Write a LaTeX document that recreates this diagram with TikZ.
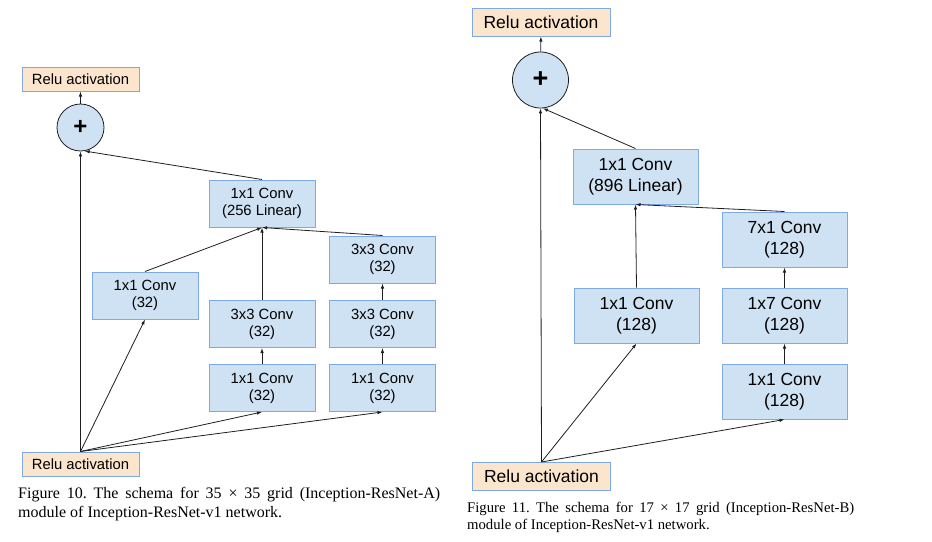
\documentclass[tikz,border=0pt]{standalone}
\usepackage{fontspec}
\setmainfont{Liberation Serif}
\setsansfont{Liberation Sans}
\usetikzlibrary{arrows.meta, positioning}
\definecolor{convfill}{RGB}{207,226,243}
\definecolor{convedge}{RGB}{125,170,228}
\definecolor{relufill}{RGB}{252,229,205}
\definecolor{linkcol}{RGB}{30,30,30}
\frenchspacing

\begin{document}
\begin{tikzpicture}[x=1pt, y=-1pt,
  box/.style={draw=convedge, line width=1pt, fill=convfill, align=center, inner sep=0pt},
  convA/.style={box, minimum width=106pt, minimum height=47pt, font=\sffamily\fontsize{14.8}{17}\selectfont},
  convB/.style={box, minimum width=125pt, minimum height=55pt, font=\sffamily\fontsize{17.5}{20.5}\selectfont},
  reluA/.style={box, fill=relufill, minimum width=117pt, minimum height=24pt, font=\sffamily\fontsize{14.8}{17}\selectfont},
  reluB/.style={box, fill=relufill, minimum width=138pt, minimum height=28pt, font=\sffamily\fontsize{17.5}{20.5}\selectfont},
  addnode/.style={circle, draw=linkcol, line width=0.8pt, fill=convfill, inner sep=0pt, font=\sffamily\bfseries},
  link/.style={-{Latex[length=5pt,width=3.5pt]}, line width=0.8pt, draw=linkcol},
  caption/.style={anchor=base west, inner sep=0pt, align=justify}]
  \useasboundingbox (0,0) rectangle (932,541);

  % Inception-ResNet-A
  \node[reluA] (reluTopA) at (80.5,79) {Relu activation};
  \node[addnode, minimum size=47pt, font=\sffamily\bfseries\fontsize{24}{24}\selectfont] (addA) at (80.5,127.5) {+};
  \node[convA] (linA) at (262,203.5) {1x1 Conv\\(256 Linear)};
  \node[convA] (c1A) at (145,295.5) {1x1 Conv\\(32)};
  \node[convA] (c3aA) at (382.5,259.5) {3x3 Conv\\(32)};
  \node[convA] (c3bA) at (262,324) {3x3 Conv\\(32)};
  \node[convA] (c3cA) at (382.5,324) {3x3 Conv\\(32)};
  \node[convA] (c1bA) at (262,388) {1x1 Conv\\(32)};
  \node[convA] (c1cA) at (382.5,388) {1x1 Conv\\(32)};
  \node[reluA] (reluBotA) at (80.5,464) {Relu activation};

  \draw[link] (addA) -- (reluTopA);
  \draw[link] (linA.north) -- (addA.-80);
  \draw[link] (reluBotA.north) -- (addA.south);
  \draw[link] (c1A.north) -- (linA.south);
  \draw[link] (c3bA.north) -- (linA.south);
  \draw[link] (c3aA.north) -- (linA.south);
  \draw[link] (c3cA) -- (c3aA);
  \draw[link] (c1bA) -- (c3bA);
  \draw[link] (c1cA) -- (c3cA);
  \draw[link] (reluBotA.north) -- (c1A.south);
  \draw[link] (reluBotA.north) -- (c1bA.south);
  \draw[link] (reluBotA.north) -- (c1cA.south);

  \node[caption, text width=422pt, font=\fontsize{16}{19}\selectfont] (capA) at (18,498)
    {Figure 10. The schema for 35 × 35 grid (Inception-ResNet-A)\linebreak module of Inception-ResNet-v1 network.};

  % Inception-ResNet-B
  \node[reluB] (reluTopB) at (541,22) {Relu activation};
  \node[addnode, minimum size=56pt, font=\sffamily\bfseries\fontsize{27}{27}\selectfont] (addB) at (540.5,80) {+};
  \node[convB] (linB) at (635.5,176.5) {1x1 Conv\\(896 Linear)};
  \node[convB] (c7B) at (784.5,239.5) {7x1 Conv\\(128)};
  \node[convB] (c1B) at (636.5,315.5) {1x1 Conv\\(128)};
  \node[convB] (c17B) at (784.5,315.5) {1x7 Conv\\(128)};
  \node[convB] (c1bB) at (784.5,391.5) {1x1 Conv\\(128)};
  \node[reluB] (reluBotB) at (541.5,476.5) {Relu activation};

  \draw[link] (addB) -- (reluTopB);
  \draw[link] (linB.north) -- (addB.-85);
  \draw[link] (reluBotB.north) -- (addB.south);
  \draw[link] (c1B.north) -- (linB.south);
  \draw[link] (c7B.north) -- (linB.south);
  \draw[link] (c17B) -- (c7B);
  \draw[link] (c1bB) -- (c17B);
  \draw[link] (reluBotB.north) -- (c1B.south);
  \draw[link] (reluBotB.north) -- (c1bB.south);

  \node[caption, text width=387pt, font=\fontsize{14.7}{17}\selectfont] (capB) at (467,512)
    {Figure 11. The schema for 17 × 17 grid (Inception-ResNet-B)\linebreak module of Inception-ResNet-v1 network.};
\end{tikzpicture}
\end{document}
